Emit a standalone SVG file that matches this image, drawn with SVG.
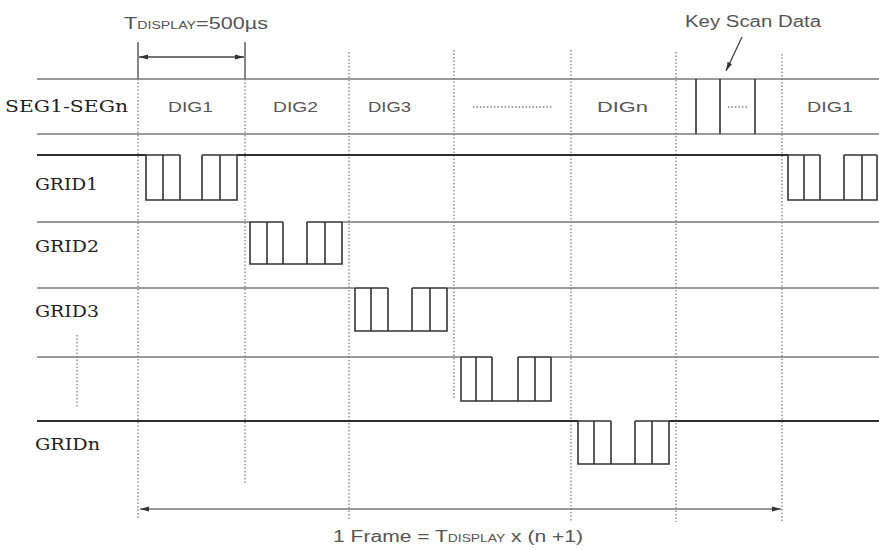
<svg xmlns="http://www.w3.org/2000/svg" width="879" height="550" viewBox="0 0 879 550">
<defs>
<marker id="ah" viewBox="0 0 10 10" refX="10" refY="5" markerWidth="9" markerHeight="7" orient="auto-start-reverse" markerUnits="userSpaceOnUse" preserveAspectRatio="none">
<path d="M0,1.5 L10,5 L0,8.5 z" fill="#333"/>
</marker>
<style>
.thin{stroke:#7a7a7a;stroke-width:1.5;fill:none}
.thick{stroke:#2e2e2e;stroke-width:2.2;fill:none}
.pulse{stroke:#333;stroke-width:1.6;fill:none}
.dot{stroke:#808080;stroke-width:1.3;stroke-dasharray:1.5 2;fill:none}
.dim{stroke:#444;stroke-width:1.3;fill:none}
.lbl{font-family:"DejaVu Serif","Liberation Serif",serif;font-size:17px;fill:#222}
.dig{font-family:"Liberation Sans",Arial,sans-serif;font-size:15px;fill:#555}
.note{font-family:"Liberation Sans",Arial,sans-serif;font-size:16px;fill:#555}
.sc{font-size:10.5px}
</style>
</defs>
<rect width="879" height="550" fill="#fff"/>

<g id="gridlines">
<line class="dot" x1="138" y1="79" x2="138" y2="518"/>
<line class="dot" x1="245" y1="79" x2="245" y2="485"/>
<line class="dot" x1="349" y1="52" x2="349" y2="520"/>
<line class="dot" x1="454" y1="50" x2="454" y2="400"/>
<line class="dot" x1="571" y1="50" x2="571" y2="522"/>
<line class="dot" x1="676" y1="52" x2="676" y2="522"/>
<line class="dot" x1="782" y1="54" x2="782" y2="522"/>
<line class="dot" x1="77" y1="335" x2="77" y2="408"/>
</g>

<g id="tdisplay">
<line class="dim" x1="138" y1="42" x2="138" y2="79"/>
<line class="dim" x1="245" y1="42" x2="245" y2="79"/>
<line class="dim" x1="139" y1="57" x2="244" y2="57" marker-start="url(#ah)" marker-end="url(#ah)"/>
<text class="note" x="124" y="29" textLength="144" lengthAdjust="spacingAndGlyphs">T<tspan class="sc">DISPLAY</tspan>=500µs</text>
</g>

<g id="seg">
<text class="lbl" x="5" y="112" textLength="123" lengthAdjust="spacingAndGlyphs">SEG1-SEGn</text>
<line class="thin" x1="37" y1="79" x2="879" y2="79"/>
<line class="thin" x1="37" y1="134" x2="879" y2="134"/>
<text class="dig" x="168" y="112" textLength="45" lengthAdjust="spacingAndGlyphs">DIG1</text>
<text class="dig" x="273" y="112" textLength="45" lengthAdjust="spacingAndGlyphs">DIG2</text>
<text class="dig" x="368" y="112" textLength="43" lengthAdjust="spacingAndGlyphs">DIG3</text>
<line class="dot" x1="473" y1="107" x2="553" y2="107"/>
<text class="dig" x="597" y="112" textLength="51" lengthAdjust="spacingAndGlyphs">DIGn</text>
<path class="pulse" d="M696,79 V134 M720,79 V134 M755,79 V134"/>
<line class="dot" x1="728" y1="107" x2="748" y2="107"/>
<text class="dig" x="807" y="112" textLength="46" lengthAdjust="spacingAndGlyphs">DIG1</text>
</g>

<g id="keyscan">
<text class="note" x="685" y="27" textLength="136" lengthAdjust="spacingAndGlyphs">Key Scan Data</text>
</g>

<g id="grid1">
<text class="lbl" x="35" y="190" textLength="63" lengthAdjust="spacingAndGlyphs">GRID1</text>
<path class="thick" d="M37,155 H146 M237,155 H788"/>
<path class="pulse" d="M146,155 V200 H237 V155 M146,155 H180 M202,155 H237 M163,155 V200 M180,155 V200 M202,155 V200 M220,155 V200"/>
<path class="pulse" d="M788,155 V200 H877 V155 M788,155 H820 M844,155 H877 M804,155 V200 M820,155 V200 M844,155 V200 M862,155 V200"/>
</g>

<g id="grid2">
<text class="lbl" x="35" y="252" textLength="64" lengthAdjust="spacingAndGlyphs">GRID2</text>
<path class="thin" d="M37,222 H250 M342,222 H879"/>
<path class="pulse" d="M250,222 V264 H342 V222 M250,222 H283 M307,222 H342 M267,222 V264 M283,222 V264 M307,222 V264 M325,222 V264"/>
</g>

<g id="grid3">
<text class="lbl" x="35" y="317" textLength="64" lengthAdjust="spacingAndGlyphs">GRID3</text>
<path class="thin" d="M37,288 H355 M447,288 H879"/>
<path class="pulse" d="M355,288 V331 H447 V288 M355,288 H388 M412,288 H447 M371,288 V331 M388,288 V331 M412,288 V331 M430,288 V331"/>
</g>

<g id="grid4">
<path class="thin" d="M37,357 H461 M551,357 H879"/>
<path class="pulse" d="M461,357 V401 H551 V357 M461,357 H492 M518,357 H551 M476,357 V401 M492,357 V401 M518,357 V401 M535,357 V401"/>
</g>

<g id="gridn">
<text class="lbl" x="35" y="450" textLength="65" lengthAdjust="spacingAndGlyphs">GRIDn</text>
<path class="thick" d="M37,421 H578 M669,421 H879"/>
<path class="pulse" d="M578,421 V464 H669 V421 M578,421 H611 M635,421 H669 M594,421 V464 M611,421 V464 M635,421 V464 M652,421 V464"/>
</g>

<g id="connectors">
<line class="dim" x1="742" y1="37" x2="726" y2="71" marker-end="url(#ah)"/>
<line class="thin" x1="140" y1="509" x2="781" y2="509" marker-start="url(#ah)" marker-end="url(#ah)"/>
</g>

<g id="frame">
<text class="note" x="333" y="542" textLength="250" lengthAdjust="spacingAndGlyphs">1 Frame = T<tspan class="sc">DISPLAY</tspan> x (n +1)</text>
</g>
</svg>
